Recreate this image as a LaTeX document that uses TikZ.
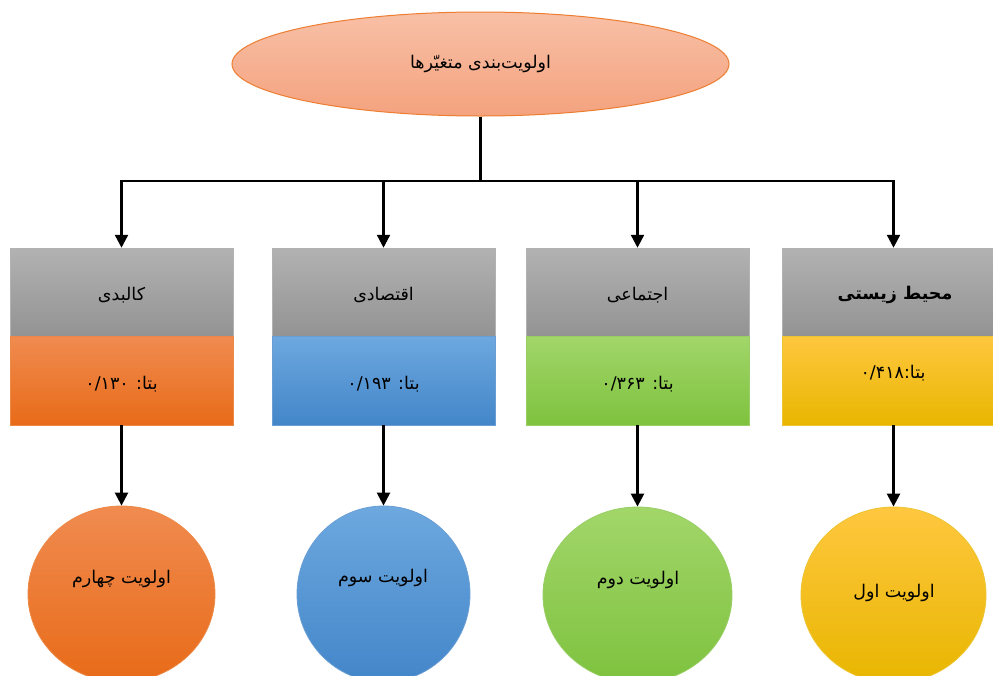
\documentclass[tikz,border=0pt]{standalone}
\usepackage{fontspec}
\usetikzlibrary{arrows.meta,shapes.geometric}
\TeXXeTstate=1
\newfontfamily\arabicfont[Script=Arabic]{DejaVu Sans}
\definecolor{grayT}{HTML}{B2B2B2}
\definecolor{grayB}{HTML}{939393}
\definecolor{orT}{HTML}{F08B50}
\definecolor{orB}{HTML}{E86B18}
\definecolor{blT}{HTML}{6DA8DF}
\definecolor{blB}{HTML}{4386C9}
\definecolor{grT}{HTML}{A2D66A}
\definecolor{grB}{HTML}{7EC23E}
\definecolor{yeT}{HTML}{FFC73F}
\definecolor{yeM}{HTML}{FFC50A}
\definecolor{yeB}{HTML}{E8B600}
\definecolor{peT}{HTML}{F8C0A6}
\definecolor{peB}{HTML}{F4A27E}
\definecolor{peD}{HTML}{ED7D31}
\tikzset{
  x=1pt,y=-1pt,
  txt/.style={font=\arabicfont\fontsize{17.5}{20}\selectfont,text=black,inner sep=0pt},
  hbox/.style={rectangle,minimum width=223pt,minimum height=88pt,inner sep=0pt,
    draw=gray!60,line width=0.5pt,top color=grayT,bottom color=grayB},
  vbox/.style={rectangle,minimum width=223pt,minimum height=89pt,inner sep=0pt,line width=0.8pt},
  blob/.style={ellipse,inner sep=0pt,line width=0.8pt,minimum height=176pt},
  conn/.style={line width=2.4pt,black},
  arr/.style={conn,-{Triangle[width=13pt,length=13pt]}}
}
\begin{document}
\begin{tikzpicture}
\clip (0,0) rectangle (993,675);
\fill[white] (0,0) rectangle (993,675);
% title
\node[ellipse,minimum width=497pt,minimum height=104pt,inner sep=0pt,draw=peD,line width=1pt,
  top color=peT,bottom color=peB] (title) at (480.5,64) {};
\node[txt] (tt) at (480.5,64) {\beginR اولویت‌بندی متغیّرها\endR};
% header boxes
\node[hbox] (g1) at (121.5,292) {};
\node[hbox] (g2) at (383.5,292) {};
\node[hbox] (g3) at (637.5,292) {};
\node[hbox] (g4) at (893.5,292) {};
\node[txt] (tg1) at (121.5,295) {\beginR کالبدی\endR};
\node[txt] (tg2) at (383.5,295) {\beginR اقتصادی\endR};
\node[txt] (tg3) at (637.5,295) {\beginR اجتماعی\endR};
\node[txt,font=\arabicfont\bfseries\fontsize{17.5}{20}\selectfont] (tg4) at (895,295) {\beginR محیط زیستی\endR};
% value boxes
\node[vbox,draw=orB!80,top color=orT,bottom color=orB] (c1) at (121.5,380.5) {};
\node[vbox,draw=blB!80,top color=blT,bottom color=blB] (c2) at (383.5,380.5) {};
\node[vbox,draw=grB!80,top color=grT,bottom color=grB] (c3) at (637.5,380.5) {};
\node[vbox,draw=yeB!80,top color=yeT,middle color=yeM,bottom color=yeB] (c4) at (893.5,380.5) {};
\node[txt] (tc1) at (121.5,384) {\beginR بتا: \beginL ۰/۱۳۰\endL\endR};
\node[txt] (tc2) at (383.5,384) {\beginR بتا: \beginL ۰/۱۹۳\endL\endR};
\node[txt] (tc3) at (637.5,384) {\beginR بتا: \beginL ۰/۳۶۳\endL\endR};
\node[txt] (tc4) at (893,373) {\beginR بتا:\beginL ۰/۴۱۸\endL\endR};
% priority circles
\node[blob,minimum width=187pt,draw=orB!80,top color=orT,bottom color=orB] (p1) at (121.5,594) {};
\node[blob,minimum width=173pt,draw=blB!80,top color=blT,bottom color=blB] (p2) at (383.5,594) {};
\node[blob,minimum width=189pt,draw=grB!80,top color=grT,bottom color=grB] (p3) at (637.5,595) {};
\node[blob,minimum width=185pt,draw=yeB!80,top color=yeT,middle color=yeM,bottom color=yeB] (p4) at (893.5,595) {};
\node[txt] (tp1) at (121.5,579) {\beginR اولویت چهارم\endR};
\node[txt] (tp2) at (383,578) {\beginR اولویت سوم\endR};
\node[txt] (tp3) at (638,580) {\beginR اولویت دوم\endR};
\node[txt] (tp4) at (894,593) {\beginR اولویت اول\endR};
% connectors
\coordinate (j) at (480.5,181);
\draw[conn] (title.south) -- (j);
\draw[arr] (j) -| (g1.north);
\draw[arr] (j) -| (g2.north);
\draw[arr] (j) -| (g3.north);
\draw[arr] (j) -| (g4.north);
\draw[arr] (c1.south) -- (p1.north);
\draw[arr] (c2.south) -- (p2.north);
\draw[arr] (c3.south) -- (p3.north);
\draw[arr] (c4.south) -- (p4.north);
\end{tikzpicture}
\end{document}
